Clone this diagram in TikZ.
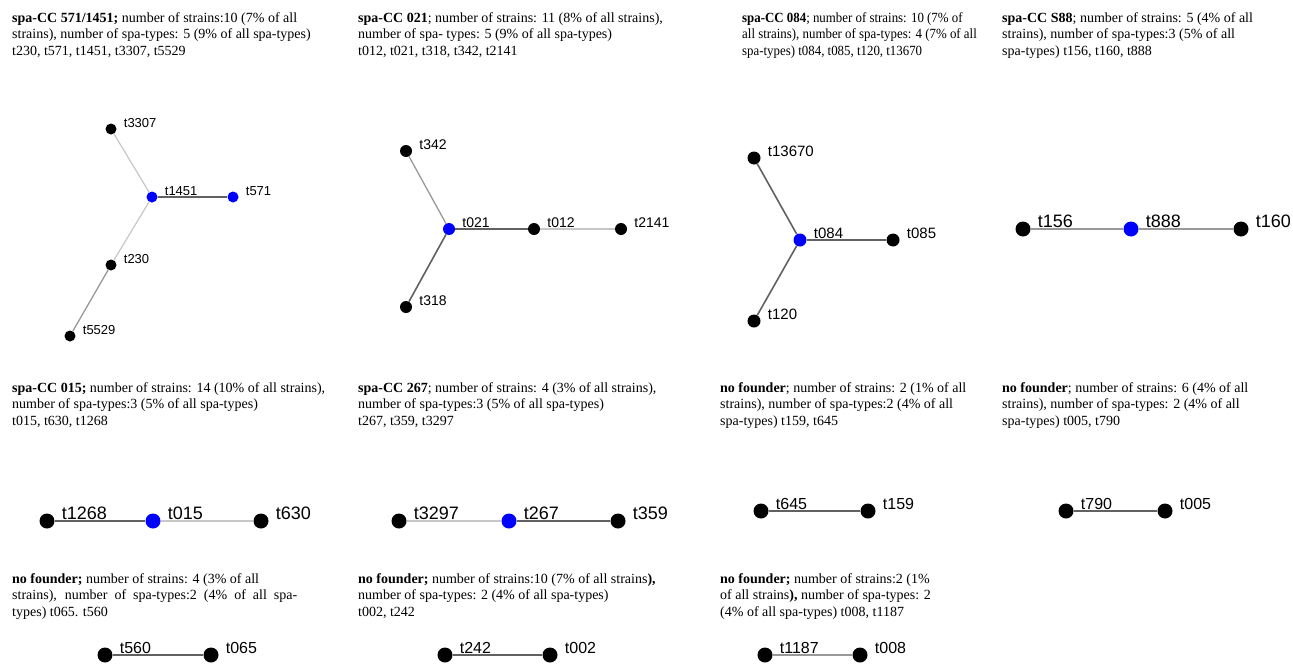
\documentclass[tikz,border=0pt]{standalone}
\usepackage{fontspec}
\setmainfont{Liberation Serif}
\newfontfamily\labfont{Liberation Sans}
\newfontfamily\condfont[FakeStretch=0.92]{Liberation Serif}
\usetikzlibrary{positioning}

\tikzset{
  hdr/.style={anchor=base west, align=left, inner sep=0pt, font=\fontsize{14}{16.5}\selectfont},
  dot/.style={circle, fill=black, inner sep=0pt, minimum size=#1pt},
  dot/.default=15,
  fdr/.style={dot=#1, fill=blue},
  fdr/.default=15,
  lab/.style={font=\labfont\fontsize{#1}{#1}\selectfont, inner sep=0pt, xshift=7pt, yshift=#1*0.45pt},
  lab/.default=18,
  lite/.style={draw=black!22, line width=1.2pt},
  mid/.style={draw=black!40, line width=1.3pt},
  dark/.style={draw=black!62, line width=1.6pt}
}

\begin{document}
\begin{tikzpicture}[x=1pt, y=-1pt]
\useasboundingbox[fill=white] (0,0) rectangle (1293,664);

% captions, row 1 (base = last line)
\node[hdr] (hdr1) at (12,55) {\textbf{spa-CC 571/1451;} number of strains:10 (7\% of all\\strains), number of spa-types: 5 (9\% of all spa-types)\\t230, t571, t1451, t3307, t5529};
\node[hdr] (hdr2) at (358,55) {\textbf{spa-CC 021}; number of strains: 11 (8\% of all strains),\\number of spa- types: 5 (9\% of all spa-types)\\t012, t021, t318, t342, t2141};
\node[hdr, font=\condfont\fontsize{14}{16.5}\selectfont] (hdr3) at (742,55) {\textbf{spa-CC 084}; number of strains: 10 (7\% of\\all strains), number of spa-types: 4 (7\% of all\\spa-types) t084, t085, t120, t13670};
\node[hdr] (hdr4) at (1002,55) {\textbf{spa-CC S88}; number of strains: 5 (4\% of all\\strains), number of spa-types:3 (5\% of all\\spa-types) t156, t160, t888};

% spa-CC 571/1451
\node[dot=11, label={[lab=13]right:t3307}] (t3307) at (111,129) {};
\node[fdr=11, label={[lab=13]right:t1451}] (t1451) at (152,197) {};
\node[fdr=11, label={[lab=13]right:t571}] (t571) at (233,197) {};
\node[dot=11, label={[lab=13]right:t230}] (t230) at (111,265) {};
\node[dot=11, label={[lab=13]right:t5529}] (t5529) at (70,336) {};
\draw[lite] (t3307) -- (t1451);
\draw[dark] (t1451) -- (t571);
\draw[lite] (t1451) -- (t230);
\draw[mid] (t230) -- (t5529);

% spa-CC 021
\node[dot=12, label={[lab=14]right:t342}] (t342) at (406,151) {};
\node[fdr=12, label={[lab=14]right:t021}] (t021) at (449,229) {};
\node[dot=12, label={[lab=14]right:t012}] (t012) at (534,229) {};
\node[dot=12, label={[lab=14]right:t2141}] (t2141) at (621,229) {};
\node[dot=12, label={[lab=14]right:t318}] (t318) at (406,307) {};
\draw[mid] (t342) -- (t021);
\draw[dark] (t021) -- (t012);
\draw[lite] (t012) -- (t2141);
\draw[dark] (t021) -- (t318);

% spa-CC 084
\node[dot=13, label={[lab=15]right:t13670}] (t13670) at (754,158) {};
\node[fdr=13, label={[lab=15]right:t084}] (t084) at (800,240) {};
\node[dot=13, label={[lab=15]right:t085}] (t085) at (893,240) {};
\node[dot=13, label={[lab=15]right:t120}] (t120) at (754,321) {};
\draw[dark] (t13670) -- (t084);
\draw[dark] (t084) -- (t085);
\draw[dark] (t084) -- (t120);

% spa-CC S88
\node[dot, label={[lab]right:t156}] (t156) at (1023,229) {};
\node[fdr, label={[lab]right:t888}] (t888) at (1131,229) {};
\node[dot, label={[lab]right:t160}] (t160) at (1241,229) {};
\draw[mid] (t156) -- (t888);
\draw[mid] (t888) -- (t160);

% captions, row 2
\node[hdr] (hdr5) at (12,425) {\textbf{spa-CC 015;} number of strains: 14 (10\% of all strains),\\number of spa-types:3 (5\% of all spa-types)\\t015, t630, t1268};
\node[hdr] (hdr6) at (358,425) {\textbf{spa-CC 267}; number of strains: 4 (3\% of all strains),\\number of spa-types:3 (5\% of all spa-types)\\t267, t359, t3297};
\node[hdr] (hdr7) at (720,425) {\textbf{no founder}; number of strains: 2 (1\% of all\\strains), number of spa-types:2 (4\% of all\\spa-types) t159, t645};
\node[hdr] (hdr8) at (1002,425) {\textbf{no founder}; number of strains: 6 (4\% of all\\strains), number of spa-types: 2 (4\% of all\\spa-types) t005, t790};

% spa-CC 015
\node[dot, label={[lab]right:t1268}] (t1268) at (47,521) {};
\node[fdr, label={[lab]right:t015}] (t015) at (153,521) {};
\node[dot, label={[lab]right:t630}] (t630) at (261,521) {};
\draw[dark] (t1268) -- (t015);
\draw[lite] (t015) -- (t630);

% spa-CC 267
\node[dot, label={[lab]right:t3297}] (t3297) at (399,521) {};
\node[fdr, label={[lab]right:t267}] (t267) at (509,521) {};
\node[dot, label={[lab]right:t359}] (t359) at (618,521) {};
\draw[lite] (t3297) -- (t267);
\draw[dark] (t267) -- (t359);

% no founder (t159, t645)
\node[dot, label={[lab=16]right:t645}] (t645) at (761,511) {};
\node[dot, label={[lab=16]right:t159}] (t159) at (868,511) {};
\draw[dark] (t645) -- (t159);

% no founder (t005, t790)
\node[dot, label={[lab=16]right:t790}] (t790) at (1066,511) {};
\node[dot, label={[lab=16]right:t005}] (t005) at (1165,511) {};
\draw[dark] (t790) -- (t005);

% captions, row 3
\node[hdr] (hdr9) at (12,616) {\textbf{no founder;} number of strains: 4 (3\% of all\\\makebox[285pt][s]{strains), number of spa-types:2 (4\% of all spa-}\\types) t065. t560};
\node[hdr] (hdr10) at (358,616) {\textbf{no founder;} number of strains:10 (7\% of all strains\textbf{),}\\number of spa-types: 2 (4\% of all spa-types)\\t002, t242};
\node[hdr] (hdr11) at (720,616) {\textbf{no founder;} number of strains:2 (1\%\\of all strains\textbf{),} number of spa-types: 2\\(4\% of all spa-types) t008, t1187};

% no founder (t065, t560)
\node[dot, label={[lab=16]right:t560}] (t560) at (105,655) {};
\node[dot, label={[lab=16]right:t065}] (t065) at (211,655) {};
\draw[dark] (t560) -- (t065);

% no founder (t002, t242)
\node[dot, label={[lab=16]right:t242}] (t242) at (445,655) {};
\node[dot, label={[lab=16]right:t002}] (t002) at (550,655) {};
\draw[dark] (t242) -- (t002);

% no founder (t008, t1187)
\node[dot, label={[lab=16]right:t1187}] (t1187) at (765,655) {};
\node[dot, label={[lab=16]right:t008}] (t008) at (860,655) {};
\draw[mid] (t1187) -- (t008);
\end{tikzpicture}
\end{document}
